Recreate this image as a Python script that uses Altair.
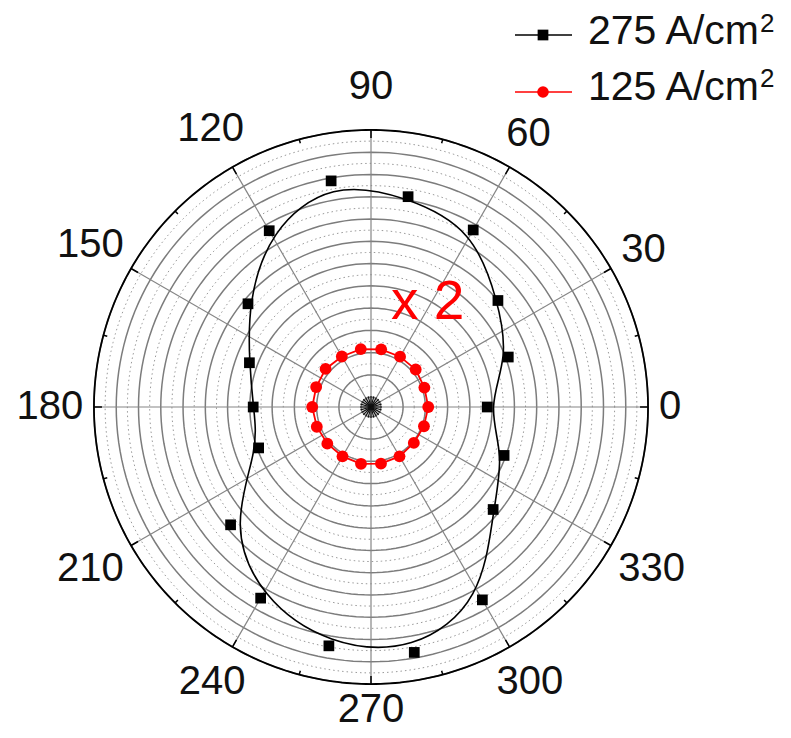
import altair as alt
import pandas as pd
import numpy as np

# ---------------- data ----------------
ANGLES = list(range(0, 360, 20))
J275 = [4.78, 6.12, 7.00, 8.74, 9.15, 9.87, 8.70, 6.77, 5.37, 4.85,
        4.93, 7.79, 9.47, 10.45, 10.75, 9.56, 6.72, 5.92]
J125_RAW = [1.065, 1.055, 1.09, 1.085, 1.095, 1.10, 1.09, 1.11, 1.09, 1.10,
            1.075, 1.06, 1.06, 1.075, 1.07, 1.06, 1.035, 1.045]
SCALE_125 = 2
SERIES_NAMES = ["275 A/cm", "125 A/cm"]

TICK_ANGLES = list(range(0, 360, 30))
TICK_LABELS = [str(a) for a in TICK_ANGLES]
MINOR_TICK_ANGLES = list(range(15, 360, 30))
CENTER_STAR_ANGLES = list(range(0, 360, 15))
R_MIN, R_MAX = -0.44, 12.0
MAJOR_RINGS = list(range(0, 13))
MINOR_RINGS = [k + 0.5 for k in range(12)]

# ---------------- layout ----------------
W, H = 775, 722
K = 22.27            # pixels per radial unit
CX, CY = 363, 399    # centre in plot coordinates
U_OUT = R_MAX - R_MIN
FONT = "Liberation Sans"

xs = alt.Scale(domain=[-CX / K, (W - CX) / K], nice=False, zero=False)
ys = alt.Scale(domain=[-(H - CY) / K, CY / K], nice=False, zero=False)
X = alt.X("x:Q", scale=xs, axis=None)
Y = alt.Y("y:Q", scale=ys, axis=None)
X2 = alt.X2("x2:Q")
Y2 = alt.Y2("y2:Q")

def polar(chart, rexpr, aexpr="datum.angle"):
    return chart.transform_calculate(
        u=f"({rexpr}) - ({R_MIN})",
    ).transform_calculate(
        x=f"datum.u * cos(({aexpr}) * PI / 180)",
        y=f"datum.u * sin(({aexpr}) * PI / 180)",
    )

# rings
ring_rows = [{"ring": r, "angle": t, "kind": "major"} for r in MAJOR_RINGS for t in range(0, 361, 2)]
ring_rows += [{"ring": r, "angle": t, "kind": "minor"} for r in MINOR_RINGS for t in range(0, 361, 2)]
rings = pd.DataFrame(ring_rows)

minor_rings = polar(alt.Chart(rings).transform_filter("datum.kind == 'minor'"), "datum.ring").mark_line(
    color="#9a9a9a", strokeWidth=1, strokeDash=[1.5, 3]
).encode(x=X, y=Y, detail="ring:N", order="angle:Q")

major_rings = polar(alt.Chart(rings).transform_filter("datum.kind == 'major'"), "datum.ring").mark_line(
    color="#7c7c7c", strokeWidth=1.5
).encode(x=X, y=Y, detail="ring:N", order="angle:Q")

# spokes
spoke_df = pd.DataFrame({"angle": TICK_ANGLES})
spokes = alt.Chart(spoke_df).transform_calculate(
    x="0", y="0",
    x2=f"{U_OUT} * cos(datum.angle * PI / 180)",
    y2=f"{U_OUT} * sin(datum.angle * PI / 180)",
).mark_rule(color="#858585", strokeWidth=1.2).encode(x=X, y=Y, x2=X2, y2=Y2)

# dark star at the centre
star_df = pd.DataFrame({"angle": CENTER_STAR_ANGLES})
star = alt.Chart(star_df).transform_calculate(
    x="0", y="0",
    x2=f"{-R_MIN + 0.05} * cos(datum.angle * PI / 180)",
    y2=f"{-R_MIN + 0.05} * sin(datum.angle * PI / 180)",
).mark_rule(color="#111111", strokeWidth=1.2).encode(x=X, y=Y, x2=X2, y2=Y2)

# outer circle
outer_df = pd.DataFrame({"angle": list(range(0, 361, 1))})
outer = alt.Chart(outer_df).transform_calculate(
    x=f"{U_OUT} * cos(datum.angle * PI / 180)",
    y=f"{U_OUT} * sin(datum.angle * PI / 180)",
).mark_line(color="black", strokeWidth=1.8).encode(x=X, y=Y, order="angle:Q")

# ticks on outer circle
def tick_layer(angles, length_px):
    df = pd.DataFrame({"angle": angles})
    return alt.Chart(df).transform_calculate(
        x=f"{U_OUT} * cos(datum.angle * PI / 180)",
        y=f"{U_OUT} * sin(datum.angle * PI / 180)",
        x2=f"{U_OUT - length_px / K} * cos(datum.angle * PI / 180)",
        y2=f"{U_OUT - length_px / K} * sin(datum.angle * PI / 180)",
    ).mark_rule(color="black", strokeWidth=1.5).encode(x=X, y=Y, x2=X2, y2=Y2)

major_ticks = tick_layer(TICK_ANGLES, 8)
minor_ticks = tick_layer(MINOR_TICK_ANGLES, 4)

# tick labels
lab_df = pd.DataFrame({"angle": TICK_ANGLES, "label": TICK_LABELS})
R_PX = U_OUT * K
labels = alt.Chart(lab_df).transform_calculate(
    c="cos(datum.angle * PI / 180)", s="sin(datum.angle * PI / 180)"
).transform_calculate(
    lr=(f"({R_PX} + 11 + length(datum.label) * 11 * abs(datum.c) + 15 * abs(datum.s)"
        f" + 17 * pow(max(datum.s, 0), 12)) / {K}")
).transform_calculate(
    x="datum.lr * datum.c",
    y="datum.lr * datum.s",
).mark_text(font=FONT, fontSize=40, color="#111111", align="center", baseline="middle").encode(
    x=X, y=Y, text="label:N"
)

# series
df275 = pd.DataFrame({"angle": ANGLES, "value": J275})
df125 = pd.DataFrame({"angle": ANGLES, "raw": J125_RAW})

curve275 = polar(alt.Chart(df275), "datum.value").mark_line(
    color="black", strokeWidth=1.6, interpolate="basis-closed"
).encode(x=X, y=Y, order="angle:Q")
pts275 = polar(alt.Chart(df275), "datum.value").mark_point(
    shape="square", filled=True, size=115, color="black", opacity=1
).encode(x=X, y=Y)

line125 = polar(alt.Chart(df125), f"datum.raw * {SCALE_125}").mark_line(
    color="#ff0000", strokeWidth=1.8, interpolate="linear-closed"
).encode(x=X, y=Y, order="angle:Q")
pts125 = polar(alt.Chart(df125), f"datum.raw * {SCALE_125}").mark_point(
    shape="circle", filled=True, size=140, color="#ff0000", opacity=1
).encode(x=X, y=Y)

# "x 2" annotation
ann_df = pd.DataFrame({"text": [f"x {SCALE_125}"], "angle": [61.5], "r": [4.9]})
annot = polar(alt.Chart(ann_df), "datum.r").mark_text(
    font=FONT, fontSize=55, color="#ff0000", align="center", baseline="middle"
).encode(x=X, y=Y, text="text:N")

# legend (decoration, pixel placed)
leg_layers = []
leg_specs = [
    (SERIES_NAMES[0], "black", "square", 115, 27, 36, 24),
    (SERIES_NAMES[1], "#ff0000", "circle", 135, 84, 92, 79),
]
for name, col, shp, sz, ly, ty, sy in leg_specs:
    d = pd.DataFrame({"name": [name]})
    base = alt.Chart(d)
    leg_layers.append(base.mark_rule(color=col, strokeWidth=1.6).encode(
        x=alt.value(507), x2=alt.value(564), y=alt.value(ly)))
    leg_layers.append(base.mark_point(shape=shp, filled=True, size=sz, color=col, opacity=1).encode(
        x=alt.value(535), y=alt.value(ly)))
    leg_layers.append(base.mark_text(font=FONT, fontSize=41, color="#111111", align="left",
                                     baseline="alphabetic").encode(
        x=alt.value(580), y=alt.value(ty), text="name:N"))
    leg_layers.append(base.mark_text(font=FONT, fontSize=26, color="#111111", align="left",
                                     baseline="alphabetic").encode(
        x=alt.value(752), y=alt.value(sy), text=alt.value("2")))

chart = alt.layer(
    minor_rings, major_rings, spokes, star, outer, major_ticks, minor_ticks, labels,
    curve275, line125, pts125, pts275, annot, *leg_layers
).properties(
    width=W, height=H, padding=0, autosize=alt.AutoSizeParams(type="none"),
    background="white"
).configure_view(stroke=None)

chart.save("out.html", embed_options={"renderer": "svg", "actions": False})
